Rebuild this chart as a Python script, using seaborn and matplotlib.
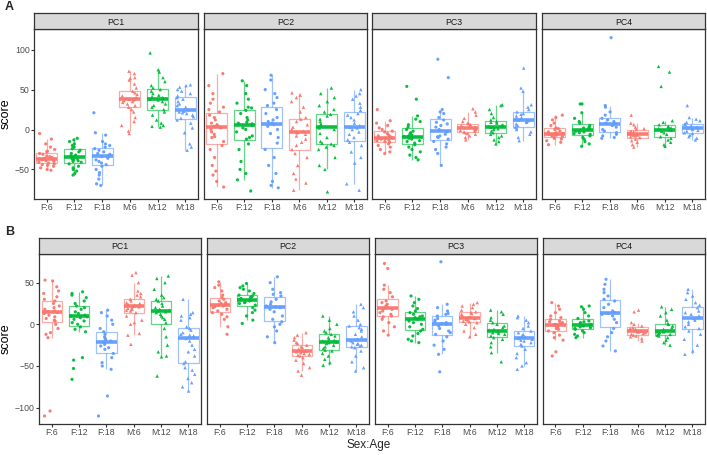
import numpy as np
import pandas as pd
import matplotlib
matplotlib.use('Agg')
import matplotlib.pyplot as plt
import seaborn as sns

groups = ['F:6', 'F:12', 'F:18', 'M:6', 'M:12', 'M:18']
ages = ['6', '12', '18']
components = ['PC1', 'PC2', 'PC3', 'PC4']
palette = {'6': '#F8766D', '12': '#00BA38', '18': '#619CFF'}
row_labels = ['A', 'B']
yticks_A = [-50, 0, 50, 100]
yticks_B = [-100, -50, 0, 50]

# ---------------- Panel A ----------------
A_PC1 = {
    'F:6': [-5, -12, -18, -22, -25, -27, -28, -30, -31, -33, -34, -35, -36, -37, -37, -38, -38, -39, -40, -41, -42, -43, -44, -45, -46, -48, -50, -51],
    'F:12': [-11, -13, -15, -18, -20, -22, -24, -26, -28, -30, -32, -33, -34, -35, -36, -37, -38, -39, -40, -41, -43, -46, -48, -50, -52, -55, -57],
    'F:18': [21, -4, -7, -15, -18, -20, -22, -24, -26, -28, -30, -31, -32, -33, -34, -36, -38, -40, -42, -44, -46, -50, -54, -57, -62, -68, -70],
    'M:6': [73, 70, 65, 64, 62, 57, 52, 48, 46, 44, 42, 40, 39, 38, 38, 37, 36, 35, 34, 32, 30, 28, 25, 22, 15, 10, 5, -2, -5],
    'M:12': [96, 75, 72, 65, 60, 55, 52, 50, 48, 45, 43, 41, 40, 39, 38, 37, 35, 32, 30, 28, 25, 22, 18, 12, 8, 5, 4, 3],
    'M:18': [56, 55, 53, 50, 48, 45, 42, 40, 38, 35, 32, 30, 28, 25, 23, 22, 21, 20, 18, 16, 14, 12, 8, 2, -4, -18, -22, -26],
}
A_PC2 = {
    'F:6': [70, 55, 45, 38, 33, 28, 25, 22, 18, 15, 12, 8, 6, 5, 4, 2, 0, -3, -6, -9, -10, -15, -20, -25, -35, -45, -52, -57, -65, -72],
    'F:12': [61, 55, 45, 38, 33, 28, 27, 24, 20, 15, 12, 9, 8, 7, 5, 2, 0, -3, -8, -10, -12, -18, -25, -40, -50, -55, -63, -77],
    'F:18': [68, 62, 50, 45, 40, 33, 30, 25, 20, 15, 12, 10, 8, 6, 4, 0, -5, -10, -17, -25, -35, -45, -55, -65, -70, -73],
    'M:6': [46, 43, 40, 35, 28, 22, 15, 13, 10, 6, 3, 0, -2, -3, -4, -6, -8, -12, -16, -20, -25, -30, -35, -45, -55, -62, -67, -76],
    'M:12': [52, 45, 40, 35, 30, 25, 22, 19, 17, 13, 10, 7, 5, 4, 2, 0, -5, -10, -15, -17, -18, -20, -22, -25, -35, -45, -50, -78],
    'M:18': [50, 45, 42, 38, 33, 28, 24, 20, 18, 15, 12, 8, 5, 3, 2, 0, -3, -6, -10, -13, -16, -20, -28, -35, -42, -68, -76],
}
A_PC3 = {
    'F:6': [25, 11, 8, 5, 2, 0, -2, -3, -5, -7, -8, -9, -10, -11, -11, -12, -13, -14, -15, -16, -18, -20, -22, -25, -28, -30],
    'F:12': [54, 38, 17, 13, 10, 6, 3, 0, -2, -4, -5, -7, -8, -9, -10, -11, -12, -14, -15, -17, -19, -22, -25, -28, -32, -35, -38],
    'F:18': [88, 65, 25, 22, 20, 15, 12, 9, 7, 5, 3, 0, -3, -6, -8, -9, -10, -12, -15, -18, -22, -25, -30, -45],
    'M:6': [26, 22, 18, 14, 10, 8, 7, 6, 5, 4, 3, 2, 1, 0, 0, -1, -2, -3, -4, -5, -6, -8, -10, -13],
    'M:12': [31, 30, 25, 20, 15, 12, 10, 9, 8, 6, 5, 4, 3, 2, 1, 0, -2, -4, -6, -8, -10, -13, -15, -18],
    'M:18': [77, 52, 48, 31, 28, 25, 22, 20, 19, 17, 15, 13, 12, 11, 10, 9, 7, 5, 3, 2, 0, -3, -6, -10, -14],
}
A_PC4 = {
    'F:6': [18, 15, 12, 8, 5, 2, 1, 0, -2, -3, -4, -5, -6, -6, -7, -8, -9, -10, -11, -12, -14, -16, -19],
    'F:12': [32, 32, 21, 14, 10, 8, 5, 3, 2, 1, 0, -1, -2, -3, -4, -5, -6, -8, -10, -12, -15, -18, -21],
    'F:18': [115, 30, 28, 22, 18, 14, 12, 10, 8, 7, 6, 5, 3, 0, -2, -4, -6, -8, -10, -11],
    'M:6': [18, 8, 6, 3, 1, 0, -2, -3, -4, -5, -6, -7, -7, -8, -9, -10, -12, -14, -16, -19, -22],
    'M:12': [79, 72, 54, 11, 9, 6, 4, 3, 2, 1, 0, -1, -2, -4, -6, -9, -11, -13, -16, -19, -21],
    'M:18': [30, 15, 13, 11, 9, 7, 6, 5, 3, 2, 1, 0, -1, -2, -4, -5, -7, -9, -11, -13],
}

# ---------------- Panel B ----------------
B_PC1 = {
    'F:6': [53, 52, 45, 40, 37, 33, 30, 28, 25, 22, 20, 18, 16, 15, 14, 13, 11, 9, 7, 5, 4, 0, -5, -10, -12, -16, -104, -110],
    'F:12': [39, 37, 35, 32, 28, 25, 22, 20, 18, 15, 13, 11, 10, 9, 8, 6, 4, 2, 0, -3, -6, -9, -40, -43, -53, -66],
    'F:18': [17, 14, 10, 5, 0, -5, -9, -12, -15, -17, -19, -20, -21, -22, -24, -26, -28, -30, -35, -40, -46, -50, -54, -86, -110],
    'M:6': [62, 59, 50, 40, 37, 35, 33, 30, 28, 26, 25, 24, 23, 22, 21, 20, 19, 18, 17, 16, 14, 10, 5, 2, 0, -11, -13, -24],
    'M:12': [58, 55, 50, 42, 35, 32, 30, 28, 25, 22, 20, 18, 17, 16, 15, 14, 12, 10, 8, 6, 2, -5, -15, -25, -33, -38, -39, -62],
    'M:18': [30, 14, 12, 10, 8, 5, -3, -5, -7, -10, -12, -13, -14, -15, -17, -20, -25, -30, -33, -38, -45, -47, -52, -55, -60, -65, -70, -75, -80],
}
B_PC2 = {
    'F:6': [51, 47, 44, 40, 35, 32, 30, 28, 26, 25, 24, 23, 22, 21, 20, 18, 16, 14, 12, 9, 6, -3, -12],
    'F:12': [49, 46, 44, 42, 40, 37, 35, 34, 33, 32, 31, 30, 29, 28, 27, 26, 25, 23, 20, 17, 14, 10, 5, 1],
    'F:18': [57, 50, 42, 38, 36, 34, 30, 27, 24, 22, 21, 20, 18, 15, 10, 6, 3, 0, -3, -8, -15, -22],
    'M:6': [-10, -13, -16, -19, -22, -23, -25, -27, -28, -30, -31, -32, -32, -33, -34, -35, -36, -37, -38, -40, -43, -47, -52, -56, -61],
    'M:12': [10, 5, 0, -5, -8, -10, -12, -14, -16, -18, -19, -20, -21, -22, -23, -25, -27, -29, -31, -32, -35, -38, -42, -46, -49],
    'M:18': [24, 20, 15, 10, 5, 0, -2, -4, -6, -8, -12, -15, -18, -20, -22, -23, -24, -25, -26, -27, -28, -32, -38, -45, -52, -56],
}
B_PC3 = {
    'F:6': [73, 67, 47, 42, 38, 33, 28, 26, 24, 22, 20, 19, 18, 16, 14, 12, 10, 9, 6, 2, -3, -8, -13],
    'F:12': [34, 30, 26, 22, 19, 16, 14, 12, 10, 9, 8, 6, 4, 2, 0, -3, -6, -8, -11, -14, -18, -20, -22],
    'F:18': [75, 24, 20, 16, 13, 12, 10, 7, 5, 3, 2, 1, 0, -2, -5, -8, -10, -12, -15, -20, -25, -30, -36, -57],
    'M:6': [26, 24, 22, 20, 17, 15, 14, 13, 12, 10, 9, 8, 7, 6, 5, 4, 3, 2, 0, -4, -8, -12, -15],
    'M:12': [17, 15, 12, 8, 5, 2, 0, -2, -4, -6, -7, -8, -9, -10, -11, -12, -14, -16, -18, -22, -27, -34, -45],
    'M:18': [10, 8, 5, 2, -2, -5, -8, -10, -12, -14, -15, -16, -17, -18, -19, -20, -22, -24, -26, -30, -35, -40, -46, -50, -54],
}
B_PC4 = {
    'F:6': [26, 22, 18, 14, 10, 8, 6, 4, 3, 2, 1, 0, -1, -2, -3, -5, -6, -8, -10, -13, -16, -19, -33, -38],
    'F:12': [22, 21, 18, 14, 10, 7, 4, 3, 2, 1, 0, -1, -2, -3, -4, -5, -6, -8, -10, -12, -14, -16],
    'F:18': [54, 48, 42, 38, 34, 30, 28, 24, 20, 16, 14, 13, 12, 10, 6, 2, -5, -10, -15, -20, -26, -32],
    'M:6': [17, 15, 2, 0, -2, -4, -5, -6, -7, -8, -9, -9, -10, -11, -12, -13, -14, -15, -17, -20],
    'M:12': [21, 18, 14, 10, 5, 1, 0, -2, -4, -6, -8, -9, -9, -10, -11, -12, -13, -14, -16, -19, -22, -25],
    'M:18': [42, 38, 34, 30, 26, 23, 20, 16, 14, 12, 10, 8, 7, 5, 3, 0, -3, -5, -8, -12, -18, -25, -32, -36],
}

rows = [[A_PC1, A_PC2, A_PC3, A_PC4], [B_PC1, B_PC2, B_PC3, B_PC4]]
ylims = [(-87, 125.5), (-119.6, 84)]
yticks = [yticks_A, yticks_B]


def to_frame(panel):
    recs = []
    for g in groups:
        sex, age = g.split(':')
        for v in panel[g]:
            recs.append({'group': g, 'score': v, 'Age': age, 'Sex': sex})
    return pd.DataFrame(recs)


sns.set_style('white')
plt.rcParams['font.family'] = ['Liberation Sans', 'DejaVu Sans']
np.random.seed(7)

W, H = 707, 455
fig = plt.figure(figsize=(W / 100, H / 100), dpi=100)

# pixel layouts: (plot_top, plot_bottom, strip_top), column lefts/rights
row_geom = [(29.3, 199.0, 13.3), (254.3, 424.0, 237.7)]
col_geom = [
    [(34, 198), (204, 367), (372, 536), (542, 705)],
    [(39.3, 201), (207.3, 369), (375, 536.7), (542.7, 705)],
]
edge = '#333333'

for r in range(2):
    top, bot, stop = row_geom[r]
    for c in range(4):
        l, rr = col_geom[r][c]
        ax = fig.add_axes([l / W, 1 - bot / H, (rr - l) / W, (bot - top) / H])
        df = to_frame(rows[r][c])
        sns.boxplot(data=df, x='group', y='score', hue='Age', order=groups,
                    hue_order=ages, palette=palette, dodge=False, fill=False,
                    showfliers=False, showcaps=False, width=0.75, linewidth=0.9,
                    boxprops=dict(alpha=0.6), whiskerprops=dict(alpha=0.6),
                    medianprops=dict(linewidth=2.6, alpha=0.95),
                    legend=False, ax=ax)
        for sex, mk, sz in [('F', 'o', 2.3), ('M', '^', 2.5)]:
            sub = df[df['Sex'] == sex]
            sns.stripplot(data=sub, x='group', y='score', hue='Age', order=groups,
                          hue_order=ages, palette=palette, dodge=False, jitter=0.3,
                          marker=mk, size=sz, linewidth=0, alpha=0.95,
                          legend=False, ax=ax)
        ax.set_xlim(-0.46, 5.46)
        ax.set_ylim(*ylims[r])
        ax.set_yticks(yticks[r])
        ax.set_xlabel('')
        ax.set_ylabel('')
        ax.grid(False)
        for s in ax.spines.values():
            s.set_visible(True)
            s.set_color(edge)
            s.set_linewidth(0.9)
        ax.tick_params(axis='both', direction='out', length=2.2, width=0.8,
                       color=edge, labelsize=6.3, labelcolor='#4D4D4D', pad=1.0,
                       bottom=True, left=True)
        if c > 0:
            ax.tick_params(axis='y', left=False, labelleft=False)
        else:
            ax.set_ylabel('score', fontsize=9, color='black')
            ax.yaxis.set_label_coords((12 - l) / (rr - l), 0.5)
        # facet strip
        sax = fig.add_axes([l / W, 1 - top / H, (rr - l) / W, (top - stop) / H])
        sax.set_facecolor('#D9D9D9')
        sax.set_xticks([])
        sax.set_yticks([])
        for s in sax.spines.values():
            s.set_color(edge)
            s.set_linewidth(0.9)
        sax.text(0.5, 0.45, components[c], ha='center', va='center',
                 fontsize=6.3, color='#1A1A1A', transform=sax.transAxes)
    fig.text(5 / W, 1 - (stop - 6) / H, row_labels[r], fontsize=9,
             fontweight='bold', ha='left', va='center')

fig.text(369 / W, 1 - 445 / H, 'Sex:Age', fontsize=8.5, ha='center', va='center')

fig.savefig('out.png', dpi=100)
